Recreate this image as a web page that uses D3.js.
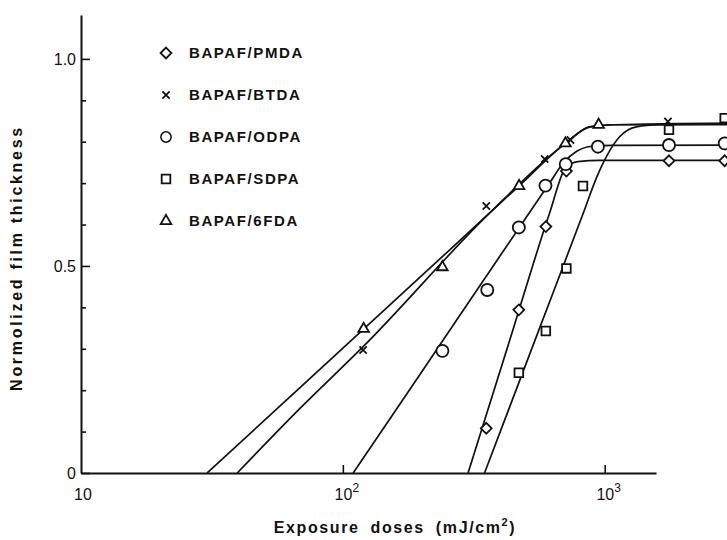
<!DOCTYPE html>
<html>
<head>
<meta charset="utf-8">
<script src="https://cdn.jsdelivr.net/npm/d3@7"></script>
<style>
  body { margin: 0; background: #fff; }
  svg { display: block; background: #fff; }
  text { font-family: "Liberation Sans", Arial, sans-serif; fill: #111; }
  .legend-label, .axis-title { font-weight: bold; }
</style>
</head>
<body>
<div id="chart"></div>
<script>
// measured points, dose in mJ/cm2 vs normalized film thickness
const seriesNames = ['BAPAF/PMDA', 'BAPAF/BTDA', 'BAPAF/ODPA', 'BAPAF/SDPA', 'BAPAF/6FDA'];
const seriesMarkers = ['diamond', 'times', 'circle', 'square', 'triangle'];

const pmdaDose = [353, 470, 596, 714, 1760, 2872];
const pmdaThick = [0.108, 0.394, 0.595, 0.729, 0.754, 0.754];
const btdaDose = [119.5, 353, 590, 740, 1744];
const btdaThick = [0.297, 0.645, 0.758, 0.804, 0.849];
const odpaDose = [240, 356, 470, 594, 710, 942, 1760, 2872];
const odpaThick = [0.295, 0.442, 0.593, 0.694, 0.746, 0.788, 0.792, 0.796];
const sdpaDose = [470, 596, 714, 826, 1760, 2872];
const sdpaThick = [0.242, 0.343, 0.494, 0.693, 0.829, 0.857];
const fdaDose = [120, 240, 471, 708, 948];
const fdaThick = [0.348, 0.497, 0.693, 0.796, 0.841];

// fitted curves, knots
const pmdaFitDose = [300.7, 434, 617, 709, 789, 957, 3000];
const pmdaFitThick = [0, 0.321, 0.629, 0.737, 0.752, 0.755, 0.755];
const btdaFitDose = [39.5, 68.6, 119.5, 364, 708, 877, 1091, 3000];
const btdaFitThick = [0, 0.156, 0.305, 0.628, 0.796, 0.836, 0.841, 0.845];
const odpaFitDose = [109.5, 197, 397, 617, 693, 782, 900, 1064, 3000];
const odpaFitThick = [0, 0.238, 0.523, 0.701, 0.748, 0.777, 0.789, 0.791, 0.792];
const sdpaFitDose = [347.6, 565, 839, 929, 1015, 1140, 1321, 1622, 3000];
const sdpaFitThick = [0, 0.351, 0.637, 0.712, 0.764, 0.812, 0.836, 0.841, 0.843];
const fdaFitDose = [30.3, 68.6, 256, 470, 708, 877, 1091, 3000];
const fdaFitThick = [0, 0.206, 0.539, 0.693, 0.796, 0.836, 0.841, 0.841];

const yTickValues = [0, 0.5, 1.0];
const yTickLabels = ['0', '0.5', '1.0'];
const yMinorTicks = [0.1, 0.2, 0.3, 0.4, 0.6, 0.7, 0.8, 0.9];
const xTickValues = [10, 100, 1000];
const xTickExponents = ['', '2', '3'];

const zipPts = (xs, ys) => xs.map((x, i) => ({dose: x, thick: ys[i]}));

const series = [
    {name: seriesNames[0], marker: seriesMarkers[0], points: zipPts(pmdaDose, pmdaThick), fit: zipPts(pmdaFitDose, pmdaFitThick)},
    {name: seriesNames[1], marker: seriesMarkers[1], points: zipPts(btdaDose, btdaThick), fit: zipPts(btdaFitDose, btdaFitThick)},
    {name: seriesNames[2], marker: seriesMarkers[2], points: zipPts(odpaDose, odpaThick), fit: zipPts(odpaFitDose, odpaFitThick)},
    {name: seriesNames[3], marker: seriesMarkers[3], points: zipPts(sdpaDose, sdpaThick), fit: zipPts(sdpaFitDose, sdpaFitThick)},
    {name: seriesNames[4], marker: seriesMarkers[4], points: zipPts(fdaDose, fdaThick), fit: zipPts(fdaFitDose, fdaFitThick)}
];

class DoseChart {
    constructor(_config, _data) {
        this.config = {
            parentElement: _config.parentElement,
            containerWidth: _config.containerWidth || 727,
            containerHeight: _config.containerHeight || 540,
            margin: _config.margin || {top: 15, right: 71, bottom: 67, left: 81},
            xAxisEnd: _config.xAxisEnd || 1570,
            yAxisTop: _config.yAxisTop || 1.106
        };
        this.data = _data;
        this.initVis();
    }

    initVis() {
        let vis = this;
        vis.width = vis.config.containerWidth - vis.config.margin.left - vis.config.margin.right;
        vis.height = vis.config.containerHeight - vis.config.margin.top - vis.config.margin.bottom;

        vis.svg = d3.select(vis.config.parentElement)
            .append('svg')
            .attr('width', vis.config.containerWidth)
            .attr('height', vis.config.containerHeight);

        vis.chart = vis.svg.append('g')
            .attr('transform', `translate(${vis.config.margin.left},${vis.config.margin.top})`);

        vis.xScale = d3.scaleLog()
            .domain([10, vis.config.xAxisEnd])
            .range([0, vis.width]);

        vis.yScale = d3.scaleLinear()
            .domain([0, vis.config.yAxisTop])
            .range([vis.height, 0]);

        // symbol shapes
        vis.symbolFor = {
            diamond: d3.symbol(d3.symbolDiamond2 || d3.symbolDiamond, 75),
            times: d3.symbol(d3.symbolTimes || d3.symbolCross, 36),
            circle: d3.symbol(d3.symbolCircle, 115),
            square: d3.symbol(d3.symbolSquare2 || d3.symbolSquare, 95),
            triangle: d3.symbol(d3.symbolTriangle2 || d3.symbolTriangle, 80)
        };

        vis.line = d3.line()
            .x(d => vis.xScale(d.dose))
            .y(d => vis.yScale(d.thick))
            .curve(d3.curveMonotoneX);

        vis.renderVis();
    }

    renderVis() {
        let vis = this;

        // fitted curves
        vis.chart.append('g').selectAll('path')
            .data(vis.data)
            .join('path')
            .attr('d', d => vis.line(d.fit))
            .attr('fill', 'none')
            .attr('stroke', '#111')
            .attr('stroke-width', 1.7)
            .attr('stroke-linejoin', 'round');

        // axes
        const yAxis = d3.axisLeft(vis.yScale)
            .tickValues(yTickValues)
            .tickSize(-9)
            .tickSizeOuter(0)
            .tickPadding(5)
            .tickFormat((d, i) => yTickLabels[i]);

        const yMinor = d3.axisLeft(vis.yScale)
            .tickValues(yMinorTicks)
            .tickSize(-5)
            .tickFormat('');

        const xAxis = d3.axisBottom(vis.xScale)
            .tickValues(xTickValues.slice(1))
            .tickSize(-8)
            .tickSizeOuter(0)
            .tickFormat('');

        const xAxisG = vis.chart.append('g')
            .attr('transform', `translate(0,${vis.height})`)
            .call(xAxis);

        const yMinorG = vis.chart.append('g').call(yMinor);
        yMinorG.select('.domain').remove();

        const yAxisG = vis.chart.append('g').call(yAxis);

        [xAxisG, yAxisG, yMinorG].forEach(g => {
            g.selectAll('.domain').attr('stroke', '#111').attr('stroke-width', 2);
            g.selectAll('.tick line').attr('stroke', '#111').attr('stroke-width', 1.6);
        });
        yAxisG.selectAll('.tick text')
            .style('font-size', '16px')
            .style('font-family', '"Liberation Sans", Arial, sans-serif')
            .attr('fill', '#111');

        // x tick labels with powers of ten
        const xLabels = vis.chart.append('g').selectAll('text')
            .data(xTickValues)
            .join('text')
            .attr('x', (d, i) => vis.xScale(d) + (i === 0 ? 2 : 4))
            .attr('y', vis.height + 27)
            .attr('text-anchor', 'middle')
            .style('font-size', '16px');
        xLabels.append('tspan').text('10');
        xLabels.append('tspan')
            .attr('dy', -8)
            .style('font-size', '12px')
            .text((d, i) => xTickExponents[i]);

        // markers
        const markerG = vis.chart.append('g').selectAll('g')
            .data(vis.data)
            .join('g');

        markerG.selectAll('path')
            .data(d => d.points.map(p => ({...p, marker: d.marker})))
            .join('path')
            .attr('transform', d => `translate(${vis.xScale(d.dose)},${vis.yScale(d.thick)})`)
            .attr('d', d => vis.symbolFor[d.marker]())
            .attr('fill', d => d.marker === 'times' ? 'none' : '#fff')
            .attr('stroke', '#111')
            .attr('stroke-width', 1.8);

        // legend
        const legend = vis.svg.append('g').selectAll('g')
            .data(vis.data)
            .join('g')
            .attr('transform', (d, i) => `translate(166,${53 + i * 42})`);

        legend.append('path')
            .attr('d', d => vis.symbolFor[d.marker]())
            .attr('transform', d => d.marker === 'circle' ? 'scale(0.85)' : null)
            .attr('fill', d => d.marker === 'times' ? 'none' : '#fff')
            .attr('stroke', '#111')
            .attr('stroke-width', 1.8);

        legend.append('text')
            .attr('class', 'legend-label')
            .attr('x', 23)
            .attr('dy', '0.36em')
            .style('font-size', '15px')
            .style('letter-spacing', '1.6px')
            .text(d => d.name);

        // axis titles
        const xTitle = vis.svg.append('text')
            .attr('class', 'axis-title')
            .attr('x', 395)
            .attr('y', 533)
            .attr('text-anchor', 'middle')
            .style('font-size', '16px')
            .style('letter-spacing', '1.6px')
            .style('word-spacing', '5px');
        xTitle.append('tspan').text('Exposure doses (mJ/cm');
        xTitle.append('tspan').attr('dy', -7).style('font-size', '11px').text('2');
        xTitle.append('tspan').attr('dy', 7).text(')');

        vis.svg.append('text')
            .attr('class', 'axis-title')
            .attr('transform', 'translate(22,258) rotate(-90)')
            .attr('text-anchor', 'middle')
            .style('font-size', '16px')
            .style('letter-spacing', '2.7px')
            .text('Normolized film thickness');
    }
}

const chart = new DoseChart({parentElement: '#chart'}, series);
</script>
</body>
</html>
